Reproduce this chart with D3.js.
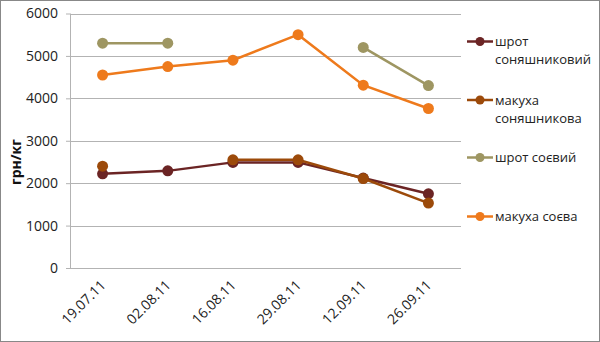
<!DOCTYPE html>
<html><head><meta charset="utf-8">
<script src="https://cdn.jsdelivr.net/npm/d3@7"></script>
<style>
body{margin:0;background:#fff;}
text{font-family:"Open Sans",sans-serif;}
</style></head>
<body><svg id="c" width="600" height="342"></svg>
<script>
const categories=["19.07.11","02.08.11","16.08.11","29.08.11","12.09.11","26.09.11"];
const yTicks=[0,1000,2000,3000,4000,5000,6000];
const seriesNames=["шрот соняшниковий","макуха соняшникова","шрот соєвий","макуха соєва"];
const legendLines=[["шрот","соняшниковий"],["макуха","соняшникова"],["шрот соєвий"],["макуха соєва"]];
const seriesColors=["#6B2424","#9C4A0A","#9E9662","#EE7A1C"];
const shrotSun=[2220,2290,2490,2490,2120,1750];
const makSun=[2400,null,2550,2550,2110,1530];
const shrotSoy=[5300,5300,null,null,5200,4300];
const makSoy=[4550,4750,4900,5500,4310,3760];
const seriesValues=[shrotSun,makSun,shrotSoy,makSoy];

const svg=d3.select("#c");
svg.append("rect").attr("x",0.5).attr("y",0.5).attr("width",599).attr("height",341)
  .attr("fill","#fff").attr("stroke","#888").attr("stroke-width",1);
const L=70,R=461,T=13.5,B=268;
const x=d3.scaleBand().domain(categories).range([L,R]);
const y=d3.scaleLinear().domain([0,6000]).range([B,T]);

// grid
svg.append("g").selectAll("line").data(yTicks).join("line")
  .attr("x1",L).attr("x2",R).attr("y1",d=>Math.round(y(d))+0.5).attr("y2",d=>Math.round(y(d))+0.5)
  .attr("stroke","#b3b3b3").attr("stroke-width",1);
// y axis line
svg.append("line").attr("x1",L+0.5).attr("x2",L+0.5).attr("y1",T).attr("y2",B+0.5).attr("stroke","#b3b3b3");
// y axis
const ya=svg.append("g").attr("transform",`translate(${L},0)`).call(d3.axisLeft(y).tickValues(yTicks).tickSize(4).tickPadding(8).tickFormat(d3.format("d")));
ya.select(".domain").remove();
ya.selectAll("line").attr("stroke","#b3b3b3");
ya.selectAll("text").attr("font-size",14).attr("fill","#222").attr("font-family","Open Sans");
// x axis
const xa=svg.append("g").attr("transform",`translate(0,${B})`).call(d3.axisBottom(x).tickSize(0).tickPadding(0));
xa.select(".domain").remove();
xa.selectAll("text").attr("font-size",14).attr("fill","#222").attr("font-family","Open Sans")
  .attr("text-anchor","end").attr("dy",0).attr("dx",0).attr("y",0)
  .attr("transform","translate(4,18) rotate(-45)");
// y label
svg.append("text").attr("transform","translate(21,162) rotate(-90)").attr("text-anchor","middle")
  .attr("font-size",14).attr("font-weight","bold").attr("fill","#111").text("грн/кг");

const line=d3.line().defined(d=>d!=null).x((d,i)=>x(categories[i])+x.bandwidth()/2).y(d=>y(d));
seriesValues.forEach((vals,s)=>{
  const g=svg.append("g");
  g.append("path").datum(vals).attr("d",line).attr("fill","none").attr("stroke",seriesColors[s]).attr("stroke-width",2.5);
  g.selectAll("circle").data(vals.map((v,i)=>({v,i})).filter(d=>d.v!=null)).join("circle")
    .attr("cx",d=>x(categories[d.i])+x.bandwidth()/2).attr("cy",d=>y(d.v)).attr("r",5.5)
    .attr("fill",seriesColors[s]);
});

// legend
const legY=[41.5,100,157.5,216.5];
seriesNames.forEach((n,s)=>{
  const g=svg.append("g").attr("transform",`translate(0,${legY[s]})`);
  g.append("line").attr("x1",467).attr("x2",493).attr("y1",0).attr("y2",0).attr("stroke",seriesColors[s]).attr("stroke-width",2.5);
  g.append("circle").attr("cx",480).attr("cy",0).attr("r",4.5).attr("fill",seriesColors[s]);
  legendLines[s].forEach((t,k)=>{
    g.append("text").attr("x",495).attr("y",k*18).attr("dy","0.35em").attr("font-size",13).attr("fill","#222").text(t);
  });
});
</script></body></html>
